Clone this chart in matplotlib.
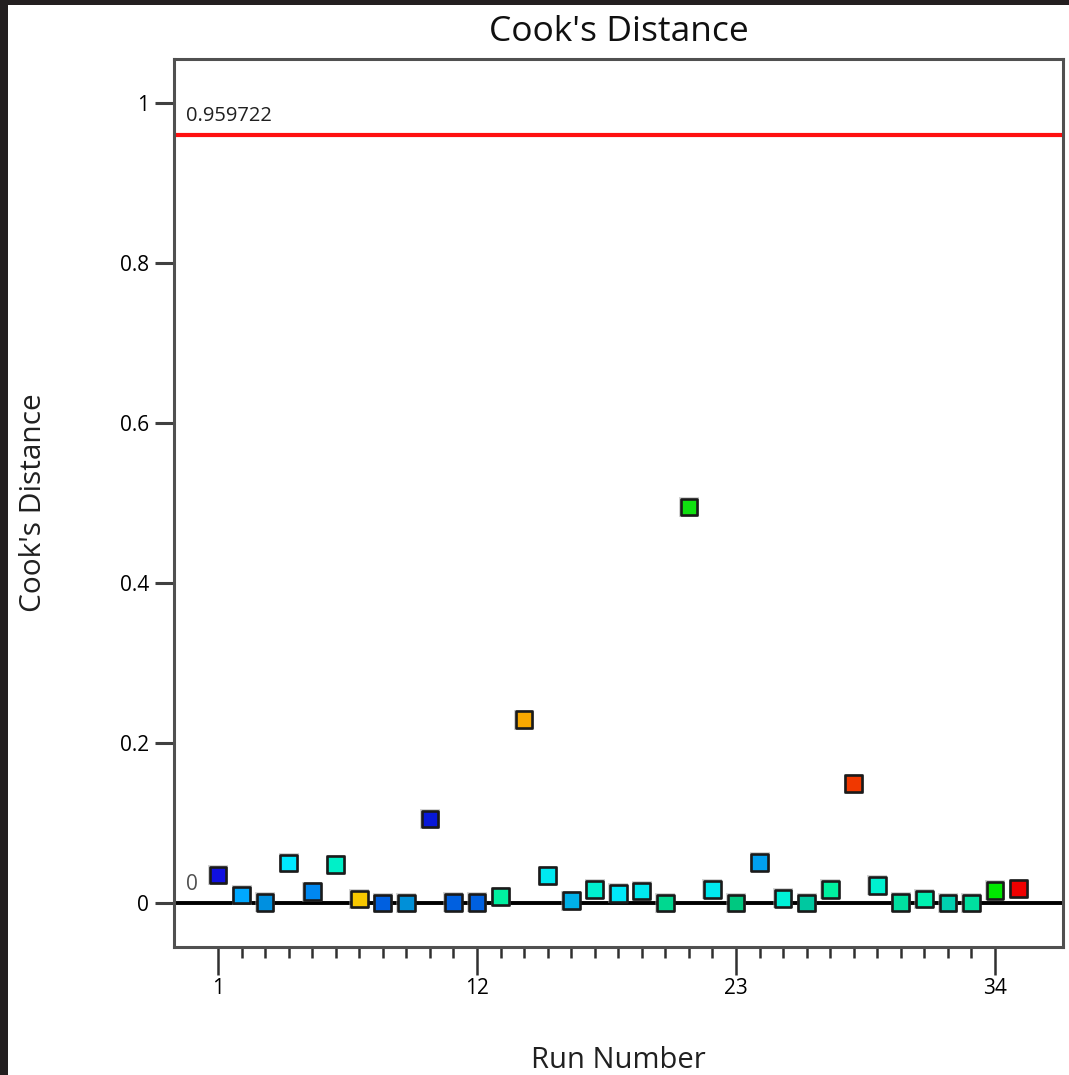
import matplotlib
matplotlib.use("Agg")
import matplotlib.pyplot as plt
from matplotlib.patches import Rectangle

# Cook's distance per run
runs = list(range(1, 36))
cooks = [0.035, 0.010, 0.001, 0.050, 0.014, 0.048, 0.005, 0.000, 0.000, 0.105,
         0.001, 0.001, 0.008, 0.229, 0.034, 0.003, 0.017, 0.012, 0.015, 0.000,
         0.495, 0.017, 0.000, 0.051, 0.006, 0.000, 0.017, 0.149, 0.022, 0.001,
         0.005, 0.000, 0.000, 0.016, 0.018]
point_colors = ["#1010e0", "#00a8ff", "#0090e0", "#00e8ff", "#0088f0", "#00f0c8",
                "#f8c800", "#0060e0", "#0090d8", "#0818d8", "#0060e0", "#0060e0",
                "#00f0a0", "#f8a800", "#00e8f0", "#00b0e8", "#00f0d0", "#00e8f8",
                "#00e8f0", "#00d890", "#10e010", "#00e8f0", "#00c880", "#00a0f0",
                "#00f0d8", "#00c8a0", "#00f0a0", "#f03800", "#00f0d0", "#00e0a0",
                "#00f0b0", "#00d0b0", "#00e0a0", "#00e800", "#f00000"]
limit_value = 0.959722
major_ticks = [1, 12, 23, 34]
y_ticks = [0, 0.2, 0.4, 0.6, 0.8, 1]
y_tick_labels = ["0", "0.2", "0.4", "0.6", "0.8", "1"]

plt.rcParams["font.family"] = ["Open Sans", "DejaVu Sans"]

W, H = 1069, 1075
fig = plt.figure(figsize=(W / 100, H / 100), dpi=100)
fig.patch.set_facecolor("white")

# dark window frame along the top and left edges
fig.patches.append(Rectangle((0, 1 - 5 / H), 1, 5 / H, transform=fig.transFigure,
                             facecolor="#231f20", edgecolor="none", zorder=10))
fig.patches.append(Rectangle((0, 0), 8 / W, 1, transform=fig.transFigure,
                             facecolor="#231f20", edgecolor="none", zorder=10))

ax = fig.add_axes([174 / W, 128 / H, (1063 - 174) / W, (947 - 59) / H])
ax.set_xlim(-0.869, 36.888)
ax.set_ylim(-0.055, 1.055)

for s in ax.spines.values():
    s.set_color("#505050")
    s.set_linewidth(2.2)

# reference lines
ax.axhline(0, color="black", lw=2.8, zorder=2)
ax.axhline(limit_value, color="#ff1010", lw=3.0, zorder=2)
ax.text(-0.36, limit_value + 0.011, f"{limit_value:g}", fontsize=14.5,
        color="#202020", ha="left", va="bottom")
ax.text(-0.36, 0.010, "0", fontsize=15, color="#505050", ha="left", va="bottom")

# soft halo then the squares themselves
ax.scatter(runs, cooks, marker="s", s=200, color="#a0a0a0", alpha=0.45,
           linewidths=0, zorder=3)
ax.scatter(runs, cooks, marker="s", s=145, c=point_colors, edgecolors="#1a1a1a",
           linewidths=1.9, zorder=4)

ax.set_xticks(major_ticks)
ax.set_xticks(range(1, 35), minor=True)
ax.set_yticks(y_ticks)
ax.set_yticklabels(y_tick_labels)
ax.tick_params(axis="x", which="major", length=20, width=1.8, color="#303030",
               labelsize=15, pad=2)
ax.tick_params(axis="x", which="minor", length=8, width=1.8, color="#303030")
ax.tick_params(axis="y", which="major", length=14, width=2.2, color="#404040",
               labelsize=15, pad=4)

ax.set_title("Cook's Distance", fontsize=25.5, pad=13, color="#101010")
ax.set_xlabel("Run Number", fontsize=21, labelpad=34, color="#202020")
ax.set_ylabel("Cook's Distance", fontsize=21.5, labelpad=52, color="#202020")

fig.savefig("out.png", dpi=100)
